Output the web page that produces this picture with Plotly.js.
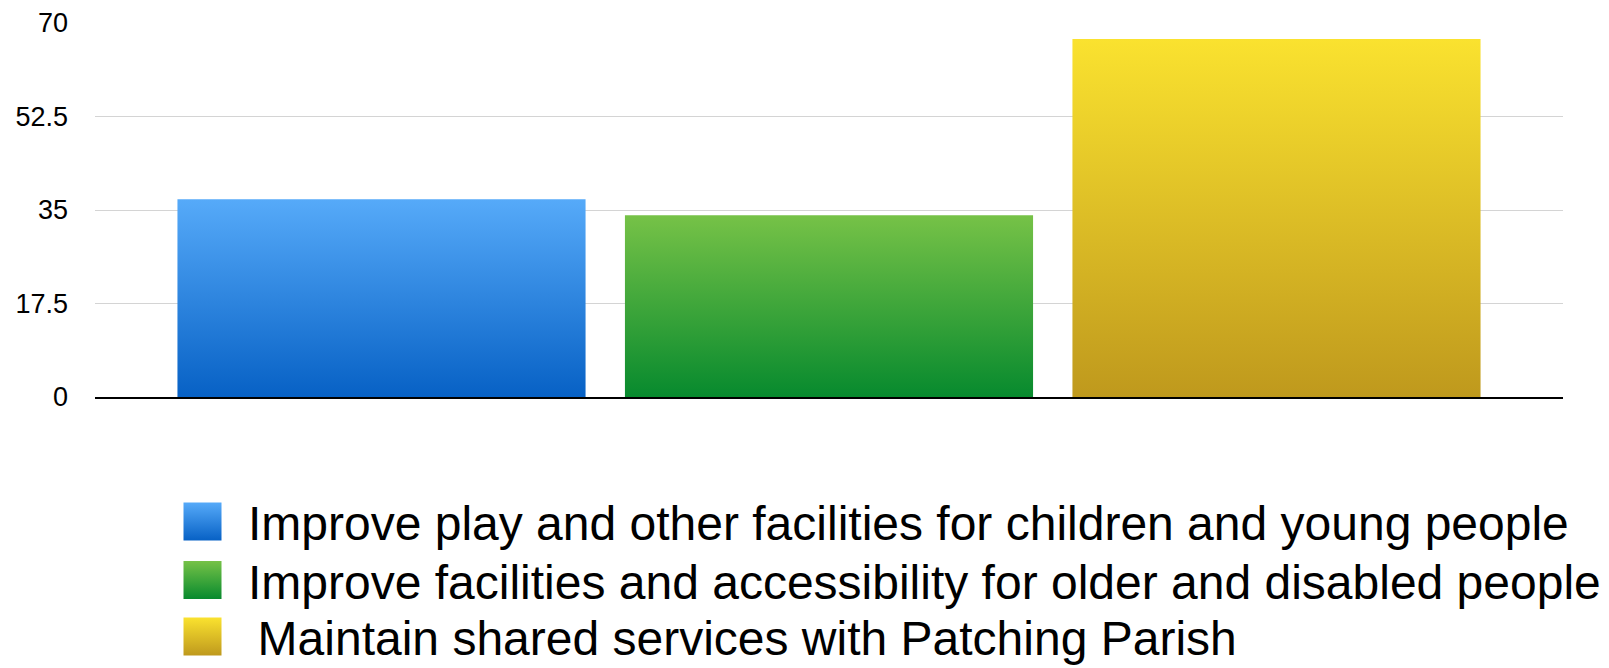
<!DOCTYPE html>
<html>
<head>
<meta charset="utf-8">
<script src="https://cdn.plot.ly/plotly-3.0.1.min.js"></script>
<style>
  html, body { margin: 0; padding: 0; background: #ffffff; }
  #chart { width: 1609px; height: 668px; }
</style>
</head>
<body>
<div id="chart"></div>
<script>
// ---- data ----
const category = ['Priorities'];
const seriesNames = [
  'Improve play and other facilities for children and young people',
  'Improve facilities and accessibility for older and disabled people',
  '\u2009Maintain shared services with Patching Parish'
];
const seriesValues = [37, 34, 67];
const yTickValues = [0, 17.5, 35, 52.5, 70];
const yTickLabels = ['0', '17.5', '35', '52.5', '70'];

// ---- styles ----
const gradTop = ['#56aaf9', '#76c247', '#fae22f'];
const gradBottom = ['#0761c5', '#078a2e', '#bf991d'];
const solid = ['#2b86e0', '#3fa63b', '#dcbe27'];

// legend placement targets (pixels in the 1609x668 page)
const legendTextLeft = 248;
const legendTextCentres = [523.5, 582, 638.5];
const legendSymbolCentreX = 202.5;
const legendSymbolHalf = 19;

const traces = seriesNames.map((name, i) => ({
  type: 'bar',
  name: name,
  x: category,
  y: [seriesValues[i]],
  marker: { color: solid[i], line: { width: 0 } },
  hoverinfo: 'skip'
}));

const layout = {
  width: 1609,
  height: 668,
  paper_bgcolor: '#ffffff',
  plot_bgcolor: '#ffffff',
  margin: { l: 95, r: 46, t: 23, b: 271, autoexpand: false },
  barmode: 'group',
  bargap: 0.0855,
  bargroupgap: 0.088,
  font: { family: 'Liberation Sans, Arial, sans-serif', color: '#000000' },
  xaxis: {
    showticklabels: false,
    ticks: '',
    showgrid: false,
    showline: true,
    linecolor: '#000000',
    linewidth: 2,
    zeroline: false
  },
  yaxis: {
    range: [0, 70],
    tickvals: yTickValues,
    ticktext: yTickLabels,
    ticks: '',
    ticklabelstandoff: 26,
    tickfont: { size: 27, color: '#000000' },
    showgrid: true,
    gridcolor: '#d4d4d4',
    gridwidth: 1,
    zeroline: false,
    showline: false
  },
  showlegend: true,
  legend: {
    x: 0,
    y: -0.69,
    xanchor: 'left',
    yanchor: 'bottom',
    itemwidth: 48,
    font: { size: 48, color: '#000000' },
    bgcolor: 'rgba(0,0,0,0)',
    traceorder: 'normal'
  }
};

function parseTranslate(tr) {
  const m = /translate\(\s*([-\d.e]+)[ ,]+([-\d.e]+)\s*\)/.exec(tr || '');
  return m ? [parseFloat(m[1]), parseFloat(m[2])] : [0, 0];
}

function applyStyling(gd) {
  const ns = 'http://www.w3.org/2000/svg';
  const svg = gd.querySelector('.main-svg');
  let defs = svg.querySelector('defs');
  if (!defs) {
    defs = document.createElementNS(ns, 'defs');
    svg.insertBefore(defs, svg.firstChild);
  }
  gradTop.forEach((top, i) => {
    if (document.getElementById('barGrad' + i)) return;
    const lg = document.createElementNS(ns, 'linearGradient');
    lg.setAttribute('id', 'barGrad' + i);
    lg.setAttribute('x1', '0'); lg.setAttribute('y1', '0');
    lg.setAttribute('x2', '0'); lg.setAttribute('y2', '1');
    const s1 = document.createElementNS(ns, 'stop');
    s1.setAttribute('offset', '0'); s1.setAttribute('stop-color', top);
    const s2 = document.createElementNS(ns, 'stop');
    s2.setAttribute('offset', '1'); s2.setAttribute('stop-color', gradBottom[i]);
    lg.appendChild(s1); lg.appendChild(s2);
    defs.appendChild(lg);
  });

  gd.querySelectorAll('.barlayer .trace.bars').forEach((t, i) => {
    t.querySelectorAll('.point path').forEach(p => {
      p.style.fill = 'url(#barGrad' + i + ')';
    });
  });

  // legend: remove clipping, place rows, enlarge swatches
  gd.querySelectorAll('.legend [clip-path]').forEach(el => el.removeAttribute('clip-path'));
  const items = Array.from(gd.querySelectorAll('.legend .traces'));
  let dx = null;
  items.forEach((g, i) => {
    const txt = g.querySelector('text.legendtext');
    const r = txt.getBoundingClientRect();
    if (dx === null) dx = legendTextLeft - r.left;
    const dy = legendTextCentres[i] - (r.top + r.height / 2);
    const [tx, ty] = parseTranslate(g.getAttribute('transform'));
    g.setAttribute('transform', 'translate(' + (tx + dx) + ',' + (ty + dy) + ')');
  });
  items.forEach((g, i) => {
    g.querySelectorAll('.legendpoints path').forEach(p => {
      const h = legendSymbolHalf;
      p.setAttribute('d', 'M' + h + ',' + h + 'H-' + h + 'V-' + h + 'H' + h + 'Z');
      p.removeAttribute('transform');
      p.style.fill = 'url(#barGrad' + i + ')';
      p.style.stroke = 'none';
      const r = p.getBoundingClientRect();
      const cx = r.left + r.width / 2;
      const cy = r.top + r.height / 2;
      const tdx = legendSymbolCentreX - cx;
      const tdy = (legendTextCentres[i] - 2) - cy;
      p.setAttribute('transform', 'translate(' + tdx + ',' + tdy + ')');
    });
  });
}

const gd = document.getElementById('chart');
Plotly.newPlot(gd, traces, layout, { staticPlot: true, displayModeBar: false }).then(() => {
  applyStyling(gd);
});
</script>
</body>
</html>
